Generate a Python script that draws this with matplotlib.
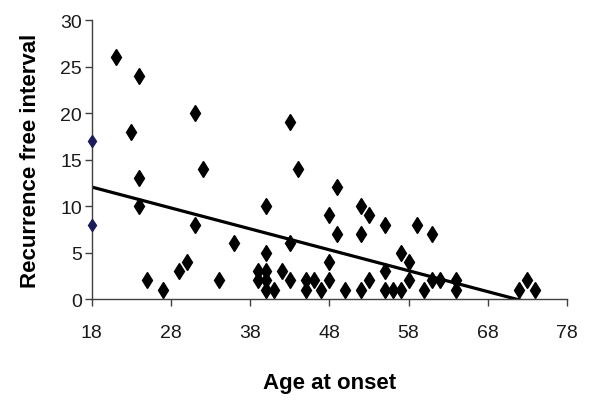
import numpy as np
import matplotlib
matplotlib.use("Agg")
import matplotlib.pyplot as plt

plt.rcParams['font.family'] = ['Liberation Sans', 'DejaVu Sans']

# Data (age at onset, recurrence free interval)
age = [21, 23, 24, 24, 24, 25, 27, 29, 30, 31, 31, 32, 34, 36,
       39, 39, 40, 40, 40, 40, 40, 41, 42, 43, 43, 43, 44, 45, 45, 46, 47,
       48, 48, 48, 49, 49, 50, 52, 52, 52, 53, 53, 55, 55, 55, 56, 57, 57,
       58, 58, 59, 60, 61, 61, 62, 64, 64, 72, 73, 74]
rfi = [26, 18, 24, 13, 10, 2, 1, 3, 4, 20, 8, 14, 2, 6,
       3, 2, 10, 5, 3, 2, 1, 1, 3, 19, 6, 2, 14, 2, 1, 2, 1,
       9, 4, 2, 12, 7, 1, 10, 7, 1, 9, 2, 8, 3, 1, 1, 5, 1,
       4, 2, 8, 1, 7, 2, 2, 2, 1, 1, 2, 1]
# two points sitting on the y axis (drawn in dark blue)
edge_age = [18, 18]
edge_rfi = [17, 8]

x_ticks = [18, 28, 38, 48, 58, 68, 78]
y_ticks = [0, 5, 10, 15, 20, 25, 30]

bx = np.array(age, dtype=float)
by = np.array(rfi, dtype=float)
slope, intercept = np.polyfit(bx, by, 1)

fig = plt.figure(figsize=(6.0, 4.06), dpi=100)
ax = fig.add_axes([0.153, 0.261, 0.792, 0.687])

xl = np.array([18.0, max(age)])
ax.plot(xl, slope * xl + intercept, color='black', lw=2.3, zorder=2)
ax.plot(age, rfi, linestyle='none', marker='d', markersize=8.5,
        color='black', zorder=3)
ax.plot(edge_age, edge_rfi, linestyle='none', marker='d', markersize=6.5,
        color='#1c1c5a', zorder=4, clip_on=False)

ax.set_xlim(18, 78)
ax.set_ylim(0, 30)
ax.set_xticks(x_ticks)
ax.set_yticks(y_ticks)
ax.tick_params(axis='both', direction='out', length=5, width=1,
               color='#404040', labelsize=14, labelcolor='#1a1a1a')
ax.tick_params(axis='x', pad=13)
ax.tick_params(axis='y', pad=2)
for s in ['top', 'right']:
    ax.spines[s].set_visible(False)
for s in ['left', 'bottom']:
    ax.spines[s].set_color('#404040')
    ax.spines[s].set_linewidth(1)

ax.set_xlabel('Age at onset', fontsize=16, fontweight='bold', labelpad=22)
ax.set_ylabel('Recurrence free interval', fontsize=16, fontweight='bold',
              labelpad=14)

fig.savefig('out.png', dpi=100)
